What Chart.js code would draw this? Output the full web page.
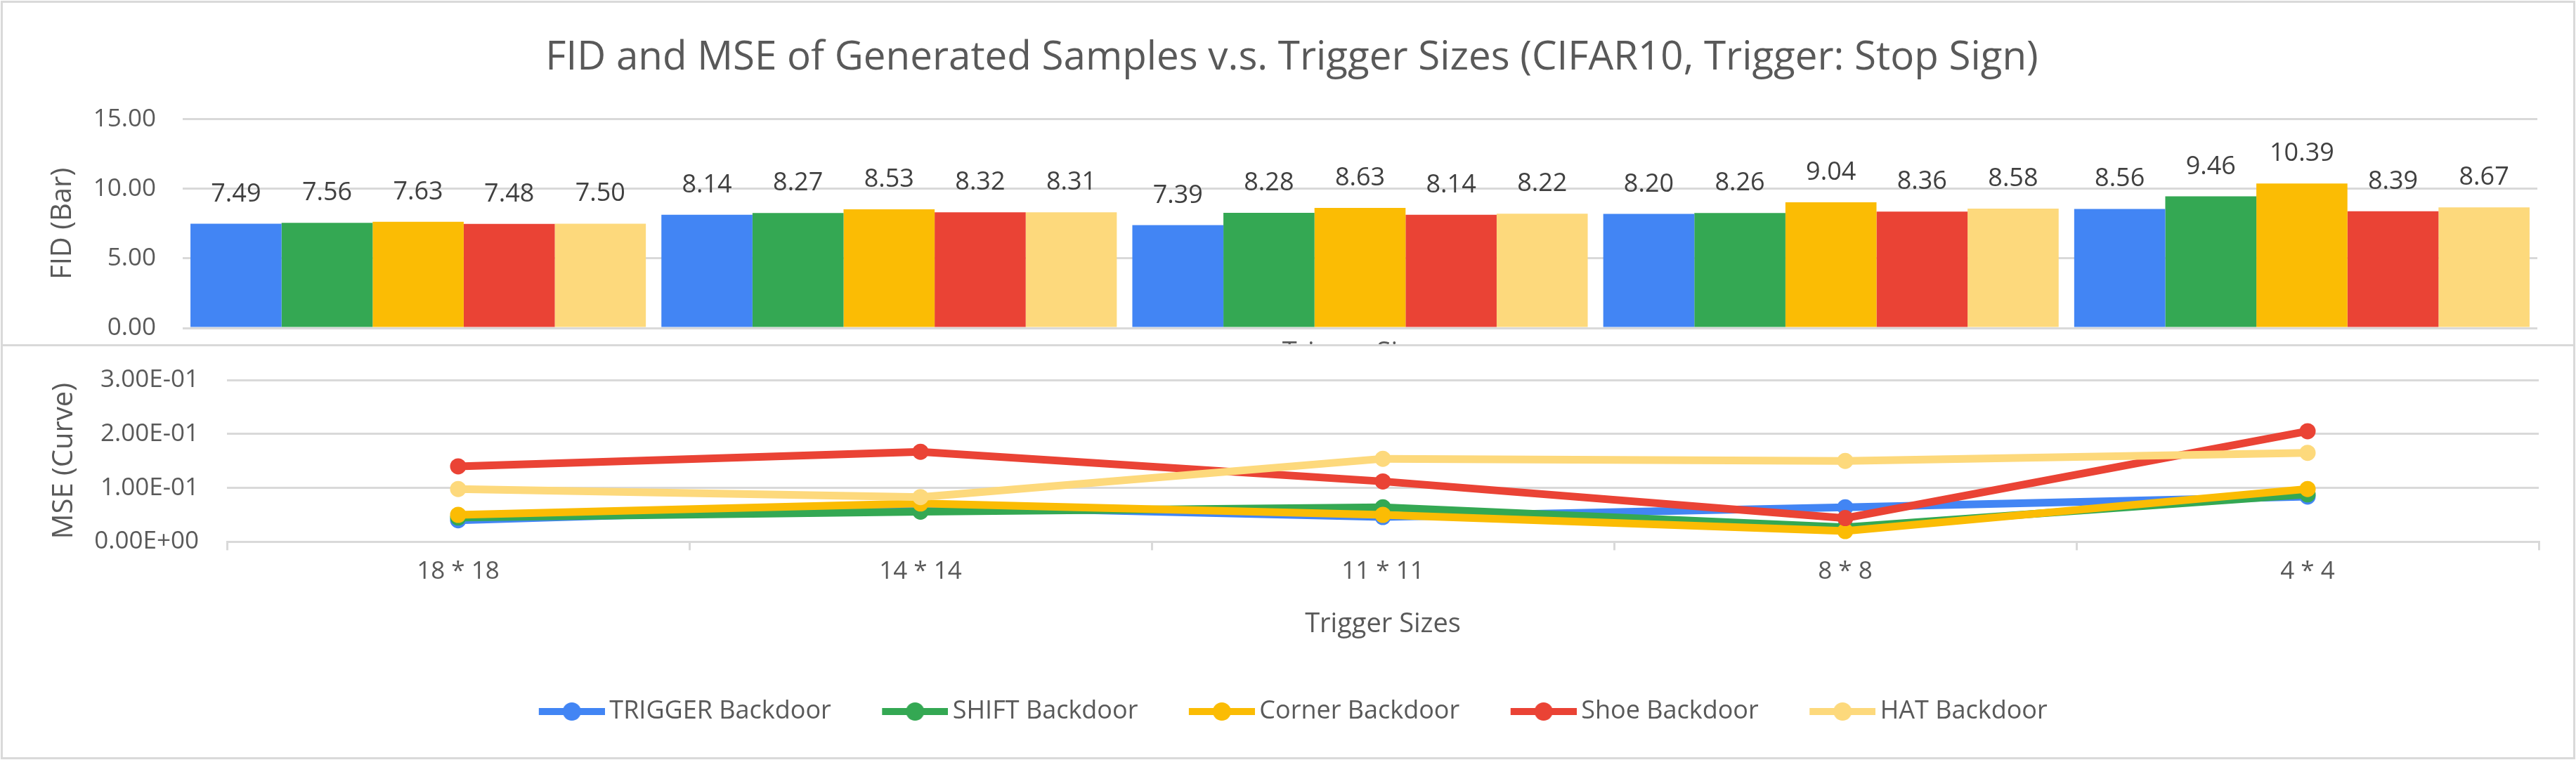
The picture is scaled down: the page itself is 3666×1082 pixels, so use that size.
<!DOCTYPE html>
<html lang="en">
<head>
    <meta charset="UTF-8">
    <title>FID and MSE vs Trigger Sizes</title>
    <script src="https://cdn.jsdelivr.net/npm/chart.js"></script>
    <style>
        body {
            margin: 0;
            background-color: #fff;
        }
        .wrap {
            position: relative;
            width: 3666px;
            height: 1082px;
        }
        canvas {
            position: absolute;
            left: 0;
        }
        #fidChart { top: 0; }
        #mseChart { top: 491px; }
        .frame {
            position: absolute;
            left: 1px;
            top: 1px;
            width: 3664px;
            height: 1080px;
            border: 3px solid #d9d9d9;
            box-sizing: border-box;
        }
        .divider {
            position: absolute;
            left: 1px;
            top: 490px;
            width: 3664px;
            height: 3px;
            background-color: #d9d9d9;
        }
    </style>
</head>
<body>
    <div class="wrap">
        <canvas id="fidChart" width="3666" height="491"></canvas>
        <canvas id="mseChart" width="3666" height="591"></canvas>
        <div class="frame"></div>
        <div class="divider"></div>
    </div>

    <script>
        const triggerSizes = ['18 * 18', '14 * 14', '11 * 11', '8 * 8', '4 * 4'];
        const seriesNames = ['TRIGGER Backdoor', 'SHIFT Backdoor', 'Corner Backdoor', 'Shoe Backdoor', 'HAT Backdoor'];
        const seriesColors = ['#4285F4', '#34A853', '#FBBC04', '#EA4335', '#FDD97C'];

        // FID (bars)
        const fidTrigger = [7.49, 8.14, 7.39, 8.20, 8.56];
        const fidShift = [7.56, 8.27, 8.28, 8.26, 9.46];
        const fidCorner = [7.63, 8.53, 8.63, 9.04, 10.39];
        const fidShoe = [7.48, 8.32, 8.14, 8.36, 8.39];
        const fidHat = [7.50, 8.31, 8.22, 8.58, 8.67];

        // MSE (curves)
        const mseTrigger = [0.040, 0.066, 0.046, 0.064, 0.084];
        const mseShift = [0.045, 0.056, 0.064, 0.027, 0.088];
        const mseCorner = [0.050, 0.071, 0.050, 0.020, 0.098];
        const mseShoe = [0.140, 0.167, 0.112, 0.044, 0.205];
        const mseHat = [0.098, 0.083, 0.154, 0.150, 0.165];

        const fidAxis = { min: 0, max: 15, step: 5 };
        const mseAxis = { min: 0, max: 0.3, step: 0.1 };

        const chartTitle = 'FID and MSE of Generated Samples v.s. Trigger Sizes (CIFAR10, Trigger: Stop Sign)';
        const xTitle = 'Trigger Sizes';

        const fidSeries = [fidTrigger, fidShift, fidCorner, fidShoe, fidHat];
        const mseSeries = [mseTrigger, mseShift, mseCorner, mseShoe, mseHat];

        const FONT = 'Open Sans';
        const TEXT = '#595959';
        const GRID = '#d9d9d9';
        const CLEAR = 'rgba(0,0,0,0)';

        function sci(v) {
            const parts = v.toExponential(2).split('e');
            const n = parseInt(parts[1], 10);
            return parts[0] + 'E' + (n < 0 ? '-' : '+') + String(Math.abs(n)).padStart(2, '0');
        }

        // bar value labels + the clipped x title peeking under the top panel
        const barLabels = {
            id: 'barLabels',
            afterDatasetsDraw(chart) {
                const ctx = chart.ctx;
                ctx.save();
                ctx.font = '36px "' + FONT + '"';
                ctx.fillStyle = '#404040';
                ctx.textAlign = 'center';
                ctx.textBaseline = 'alphabetic';
                chart.data.datasets.forEach((ds, i) => {
                    chart.getDatasetMeta(i).data.forEach((bar, j) => {
                        ctx.fillText(ds.data[j].toFixed(2), bar.x, bar.y - 32);
                    });
                });
                ctx.font = '38px "' + FONT + '"';
                ctx.fillStyle = TEXT;
                const a = chart.chartArea;
                ctx.fillText(xTitle, (a.left + a.right) / 2, 514);
                ctx.restore();
            }
        };

        new Chart(document.getElementById('fidChart'), {
            type: 'bar',
            data: {
                labels: triggerSizes,
                datasets: seriesNames.map((name, i) => ({
                    label: name,
                    data: fidSeries[i],
                    backgroundColor: seriesColors[i],
                    borderWidth: 0,
                    categoryPercentage: 0.967,
                    barPercentage: 1.0
                }))
            },
            options: {
                responsive: false,
                animation: false,
                layout: { padding: { left: 66, right: 55, top: 0, bottom: 24 } },
                plugins: {
                    legend: { display: false },
                    tooltip: { enabled: false },
                    title: {
                        display: true,
                        text: chartTitle,
                        color: TEXT,
                        font: { family: FONT, size: 56.5, weight: 'normal', lineHeight: 1.2 },
                        padding: { top: 49, bottom: 53 }
                    }
                },
                scales: {
                    x: { display: false },
                    y: {
                        min: fidAxis.min,
                        max: fidAxis.max,
                        afterFit(scale) { scale.width = 194; },
                        ticks: {
                            stepSize: fidAxis.step,
                            padding: 0,
                            color: TEXT,
                            font: { family: FONT, size: 35 },
                            callback: v => v.toFixed(2)
                        },
                        grid: { color: GRID, lineWidth: 3, drawTicks: true, tickLength: 38, tickColor: CLEAR },
                        border: { display: false },
                        title: {
                            display: true,
                            text: 'FID (Bar)',
                            color: TEXT,
                            font: { family: FONT, size: 40 },
                            padding: { top: 0, bottom: 0 }
                        }
                    }
                }
            },
            plugins: [barLabels]
        });

        // legend marker: short line with a dot in the middle
        function makeMarker(color) {
            const c = document.createElement('canvas');
            c.width = 106;
            c.height = 30;
            const g = c.getContext('2d');
            g.strokeStyle = color;
            g.lineWidth = 10;
            g.beginPath();
            g.moveTo(12, 15);
            g.lineTo(106, 15);
            g.stroke();
            g.fillStyle = color;
            g.beginPath();
            g.arc(59, 15, 13, 0, Math.PI * 2);
            g.fill();
            return c;
        }
        const markers = seriesColors.map(makeMarker);

        new Chart(document.getElementById('mseChart'), {
            type: 'line',
            data: {
                labels: triggerSizes,
                datasets: seriesNames.map((name, i) => ({
                    label: name,
                    data: mseSeries[i],
                    borderColor: seriesColors[i],
                    backgroundColor: seriesColors[i],
                    borderWidth: 11,
                    pointRadius: 11.5,
                    pointBorderWidth: 0,
                    pointBackgroundColor: seriesColors[i],
                    tension: 0,
                    order: seriesNames.length - 1 - i
                }))
            },
            options: {
                responsive: false,
                animation: false,
                layout: { padding: { left: 67, right: 53, top: 50, bottom: 41 } },
                plugins: {
                    tooltip: { enabled: false },
                    legend: {
                        position: 'bottom',
                        labels: {
                            usePointStyle: true,
                            pointStyleWidth: 83,
                            padding: 72,
                            color: TEXT,
                            font: { family: FONT, size: 36 },
                            sort: (a, b) => a.datasetIndex - b.datasetIndex,
                            generateLabels(chart) {
                                const items = Chart.defaults.plugins.legend.labels.generateLabels(chart);
                                items.forEach(it => { it.pointStyle = markers[it.datasetIndex]; });
                                return items;
                            }
                        }
                    }
                },
                scales: {
                    x: {
                        offset: true,
                        grid: {
                            offset: true,
                            drawOnChartArea: false,
                            drawTicks: true,
                            tickLength: 12,
                            color: GRID,
                            lineWidth: 3
                        },
                        border: { color: GRID, width: 3 },
                        ticks: {
                            padding: 10,
                            color: TEXT,
                            font: { family: FONT, size: 35 }
                        },
                        title: {
                            display: true,
                            text: xTitle,
                            color: TEXT,
                            font: { family: FONT, size: 38 },
                            padding: { top: 21, bottom: 11 }
                        }
                    },
                    y: {
                        min: mseAxis.min,
                        max: mseAxis.max,
                        afterFit(scale) { scale.width = 256; },
                        ticks: {
                            stepSize: mseAxis.step,
                            padding: 0,
                            color: TEXT,
                            font: { family: FONT, size: 35 },
                            callback: v => sci(v)
                        },
                        grid: { color: GRID, lineWidth: 3, drawTicks: true, tickLength: 40, tickColor: CLEAR },
                        border: { display: false },
                        title: {
                            display: true,
                            text: 'MSE (Curve)',
                            color: TEXT,
                            font: { family: FONT, size: 40 },
                            padding: { top: 1, bottom: 0 }
                        }
                    }
                }
            }
        });
    </script>
</body>
</html>
